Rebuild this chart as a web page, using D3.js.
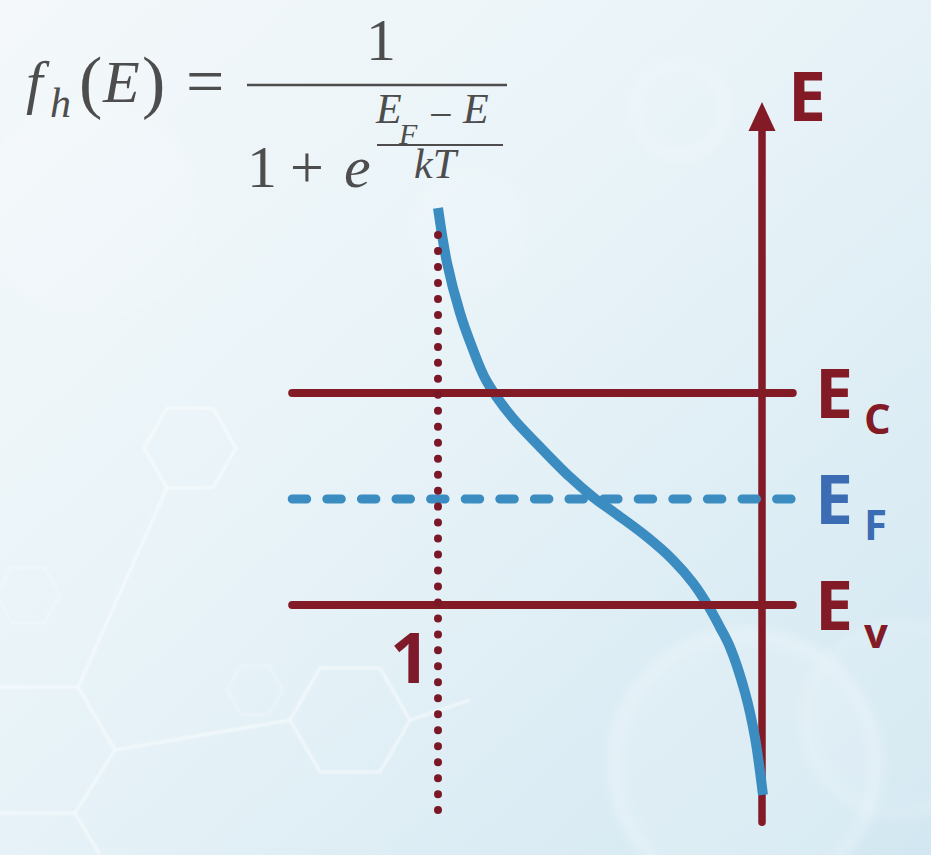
<!DOCTYPE html>
<html><head><meta charset="utf-8">
<script src="https://cdn.jsdelivr.net/npm/d3@7"></script>
<style>html,body{margin:0;padding:0;background:#e9f3f8;overflow:hidden}</style>
</head><body><svg id="chart" width="931" height="855"></svg>
<script>
// ---------------- data ----------------
// hole occupation f_h (x) versus energy E (y), E measured from E_F in band-gap half units
const curveF = [1.000, 0.972, 0.932, 0.895, 0.852, 0.772, 0.685, 0.593, 0.522, 0.454, 0.355, 0.275, 0.213, 0.164, 0.130, 0.099, 0.052, 0.022, -0.003];
const curveE = [2.745, 2.226, 1.755, 1.434, 1.123, 0.774, 0.491, 0.208, 0.019, -0.132, -0.358, -0.575, -0.792, -1.019, -1.208, -1.396, -1.830, -2.245, -2.792];
const levelMain = ["E", "E", "E"];
const levelSub = ["C", "F", "v"];
const levelE = [1, 0, -1];
const levelDashed = [false, true, false];
const axisLabel = "E";
const tickF = [1];
const tickLabels = ["1"];
const axisERange = [-3.05, 3.745];
const dottedERange = [-2.935, 2.49];
const levelFRange = [1.45, -0.095];

// ---------------- layout ----------------
const W = 931, H = 855;
const svg = d3.select("#chart");
const x = d3.scaleLinear().domain([0, 1]).range([762, 438]);
const y = d3.scaleLinear().domain([-1, 1]).range([605, 393]);

const RED = "#821b26", BLUE = "#3b8cc0", BLUE_TXT = "#3c6db4";

// background
const defs = svg.append("defs");
const lg = defs.append("linearGradient").attr("id", "bg").attr("x1", 0).attr("y1", 0).attr("x2", 1).attr("y2", 1);
lg.append("stop").attr("offset", "0%").attr("stop-color", "#f4f8fa");
lg.append("stop").attr("offset", "45%").attr("stop-color", "#e8f3f8");
lg.append("stop").attr("offset", "100%").attr("stop-color", "#d2e7f1");
const blur = defs.append("filter").attr("id", "blur").attr("x", "-20%").attr("y", "-20%").attr("width", "140%").attr("height", "140%");
blur.append("feGaussianBlur").attr("stdDeviation", 1.2);
const blur2 = defs.append("filter").attr("id", "blur2").attr("x", "-30%").attr("y", "-30%").attr("width", "160%").attr("height", "160%");
blur2.append("feGaussianBlur").attr("stdDeviation", 6);
svg.append("rect").attr("width", W).attr("height", H).attr("fill", "url(#bg)");

// bokeh / decorative background
const deco = svg.append("g");
deco.append("circle").attr("cx", 745).attr("cy", 765).attr("r", 132).attr("fill", "#ffffff").attr("fill-opacity", 0.12)
  .attr("stroke", "#ffffff").attr("stroke-opacity", 0.35).attr("stroke-width", 8).attr("filter", "url(#blur2)");
deco.append("circle").attr("cx", 900).attr("cy", 720).attr("r", 95).attr("fill", "#ffffff").attr("fill-opacity", 0.08)
  .attr("stroke", "#ffffff").attr("stroke-opacity", 0.25).attr("stroke-width", 6).attr("filter", "url(#blur2)");
deco.append("circle").attr("cx", 680).attr("cy", 110).attr("r", 45).attr("fill", "none")
  .attr("stroke", "#ffffff").attr("stroke-opacity", 0.4).attr("stroke-width", 4).attr("filter", "url(#blur2)");
deco.append("circle").attr("cx", 470).attr("cy", 230).attr("r", 60).attr("fill", "#ffffff").attr("fill-opacity", 0.1).attr("filter", "url(#blur2)");
deco.append("circle").attr("cx", 90).attr("cy", 210).attr("r", 110).attr("fill", "#ffffff").attr("fill-opacity", 0.13).attr("filter", "url(#blur2)");

const hex = (cx, cy, r) => d3.range(6).map(i => [cx + r * Math.cos(i * Math.PI / 3), cy + r * Math.sin(i * Math.PI / 3)]);
const hexG = deco.append("g").attr("fill", "none").attr("stroke", "#ffffff").attr("stroke-opacity", 0.6)
  .attr("stroke-width", 2.5).attr("filter", "url(#blur)");
hexG.append("polygon").attr("points", hex(190, 448, 46).join(" "));
hexG.append("polygon").attr("points", hex(350, 720, 60).join(" "));
hexG.append("polygon").attr("points", hex(28, 595, 32).join(" ")).attr("stroke-opacity", 0.3);
hexG.append("polygon").attr("points", hex(255, 690, 28).join(" ")).attr("stroke-opacity", 0.25);
const segs = [[[167, 488], [78, 687]], [[0, 687], [78, 687]], [[78, 687], [115, 750]], [[115, 750], [290, 720]],
  [[115, 750], [75, 813]], [[0, 813], [75, 813]], [[75, 813], [100, 855]], [[410, 720], [470, 700]]];
segs.forEach(s => hexG.append("line").attr("x1", s[0][0]).attr("y1", s[0][1]).attr("x2", s[1][0]).attr("y2", s[1][1]));

// ---------------- formula ----------------
const FCOL = "#4d4d4d";
const fm = svg.append("g").attr("fill", FCOL).attr("font-family", "'Liberation Serif','Times New Roman',serif");
// f_h(E) as one text element
const lhs = fm.append("text");
lhs.append("tspan").attr("x", 26).attr("y", 102).attr("font-size", 60).attr("font-style", "italic").text("f");
lhs.append("tspan").attr("x", 50).attr("y", 117).attr("font-size", 42).attr("font-style", "italic").text("h");
lhs.append("tspan").attr("x", 79).attr("y", 105).attr("font-size", 70).text("(");
lhs.append("tspan").attr("x", 103).attr("y", 102).attr("font-size", 60).attr("font-style", "italic").text("E");
lhs.append("tspan").attr("x", 142).attr("y", 105).attr("font-size", 70).text(")");
fm.append("text").attr("x", 186).attr("y", 104).attr("font-size", 68).text("=");
fm.append("text").attr("x", 366).attr("y", 60).attr("font-size", 60).text("1");
fm.append("line").attr("x1", 247).attr("x2", 507).attr("y1", 85).attr("y2", 85).attr("stroke", FCOL).attr("stroke-width", 2.5);
const den = fm.append("text");
den.append("tspan").attr("x", 247).attr("y", 187).attr("font-size", 60).text("1");
den.append("tspan").attr("x", 290).attr("y", 187).attr("font-size", 60).text("+");
den.append("tspan").attr("x", 344).attr("y", 187).attr("font-size", 60).attr("font-style", "italic").text("e");
const ex = fm.append("text");
ex.append("tspan").attr("x", 376).attr("y", 123).attr("font-size", 42).attr("font-style", "italic").text("E");
ex.append("tspan").attr("x", 399).attr("y", 144).attr("font-size", 30).attr("font-style", "italic").text("F");
ex.append("tspan").attr("x", 429).attr("y", 129).attr("font-size", 42).text("\u2212");
ex.append("tspan").attr("x", 463).attr("y", 123).attr("font-size", 42).attr("font-style", "italic").text("E");
fm.append("line").attr("x1", 377).attr("x2", 503).attr("y1", 145).attr("y2", 145).attr("stroke", FCOL).attr("stroke-width", 2);
fm.append("text").attr("x", 414).attr("y", 178).attr("font-size", 42).attr("font-style", "italic").text("kT");

// ---------------- chart ----------------
const g = svg.append("g");

// energy axis with arrow
g.append("line").attr("x1", x(0)).attr("x2", x(0)).attr("y1", y(axisERange[0])).attr("y2", y(axisERange[1]) + 20)
  .attr("stroke", RED).attr("stroke-width", 7.5).attr("stroke-linecap", "round");
const tipY = y(axisERange[1]);
g.append("path").attr("d", `M${x(0)},${tipY} L${x(0) + 13.5},${tipY + 29} L${x(0) - 13.5},${tipY + 29} Z`)
  .attr("fill", RED);

// curve
const line = d3.line().x(d => x(d[0])).y(d => y(d[1])).curve(d3.curveCatmullRom.alpha(0.5));
g.append("path").datum(curveF.map((f, i) => [f, curveE[i]])).attr("d", line)
  .attr("fill", "none").attr("stroke", BLUE).attr("stroke-width", 10).attr("stroke-linecap", "butt");

// energy levels
levelE.forEach((e, i) => {
  const l = g.append("line").attr("x1", x(levelFRange[0])).attr("x2", x(levelFRange[1]))
    .attr("y1", y(e)).attr("y2", y(e)).attr("stroke-linecap", "round");
  if (levelDashed[i]) {
    l.attr("stroke", BLUE).attr("stroke-width", 9).attr("stroke-dasharray", "14.5 20.1");
  } else {
    l.attr("stroke", RED).attr("stroke-width", 8);
  }
});

// dotted f = 1 line
tickF.forEach(f => {
  g.append("line").attr("x1", x(f)).attr("x2", x(f)).attr("y1", y(dottedERange[0])).attr("y2", y(dottedERange[1]))
    .attr("stroke", "#7a1828").attr("stroke-width", 8).attr("stroke-linecap", "round")
    .attr("stroke-dasharray", `0 ${(y(dottedERange[0]) - y(dottedERange[1])) / 36}`);
});

// labels
const lab = svg.append("g").attr("font-family", "'Open Sans','DejaVu Sans',sans-serif").attr("font-weight", 700);
lab.append("text").attr("x", x(0) + 26).attr("y", tipY + 19).attr("font-size", 68).attr("fill", RED).text(axisLabel);
levelE.forEach((e, i) => {
  const col = levelDashed[i] ? BLUE_TXT : RED;
  const tx = lab.append("text").attr("fill", col);
  tx.append("tspan").attr("x", x(0) + 53).attr("y", y(e) + 25).attr("font-size", 68).text(levelMain[i]);
  tx.append("tspan").attr("x", x(0) + 102).attr("y", y(e) + (levelSub[i] === "v" ? 43 : 41)).attr("font-size", 42).text(levelSub[i]);
});
tickF.forEach((f, i) => {
  lab.append("text").attr("x", x(f) - 48).attr("y", 683).attr("font-size", 70).attr("fill", "#7e1a2a").text(tickLabels[i]);
});
</script></body></html>
